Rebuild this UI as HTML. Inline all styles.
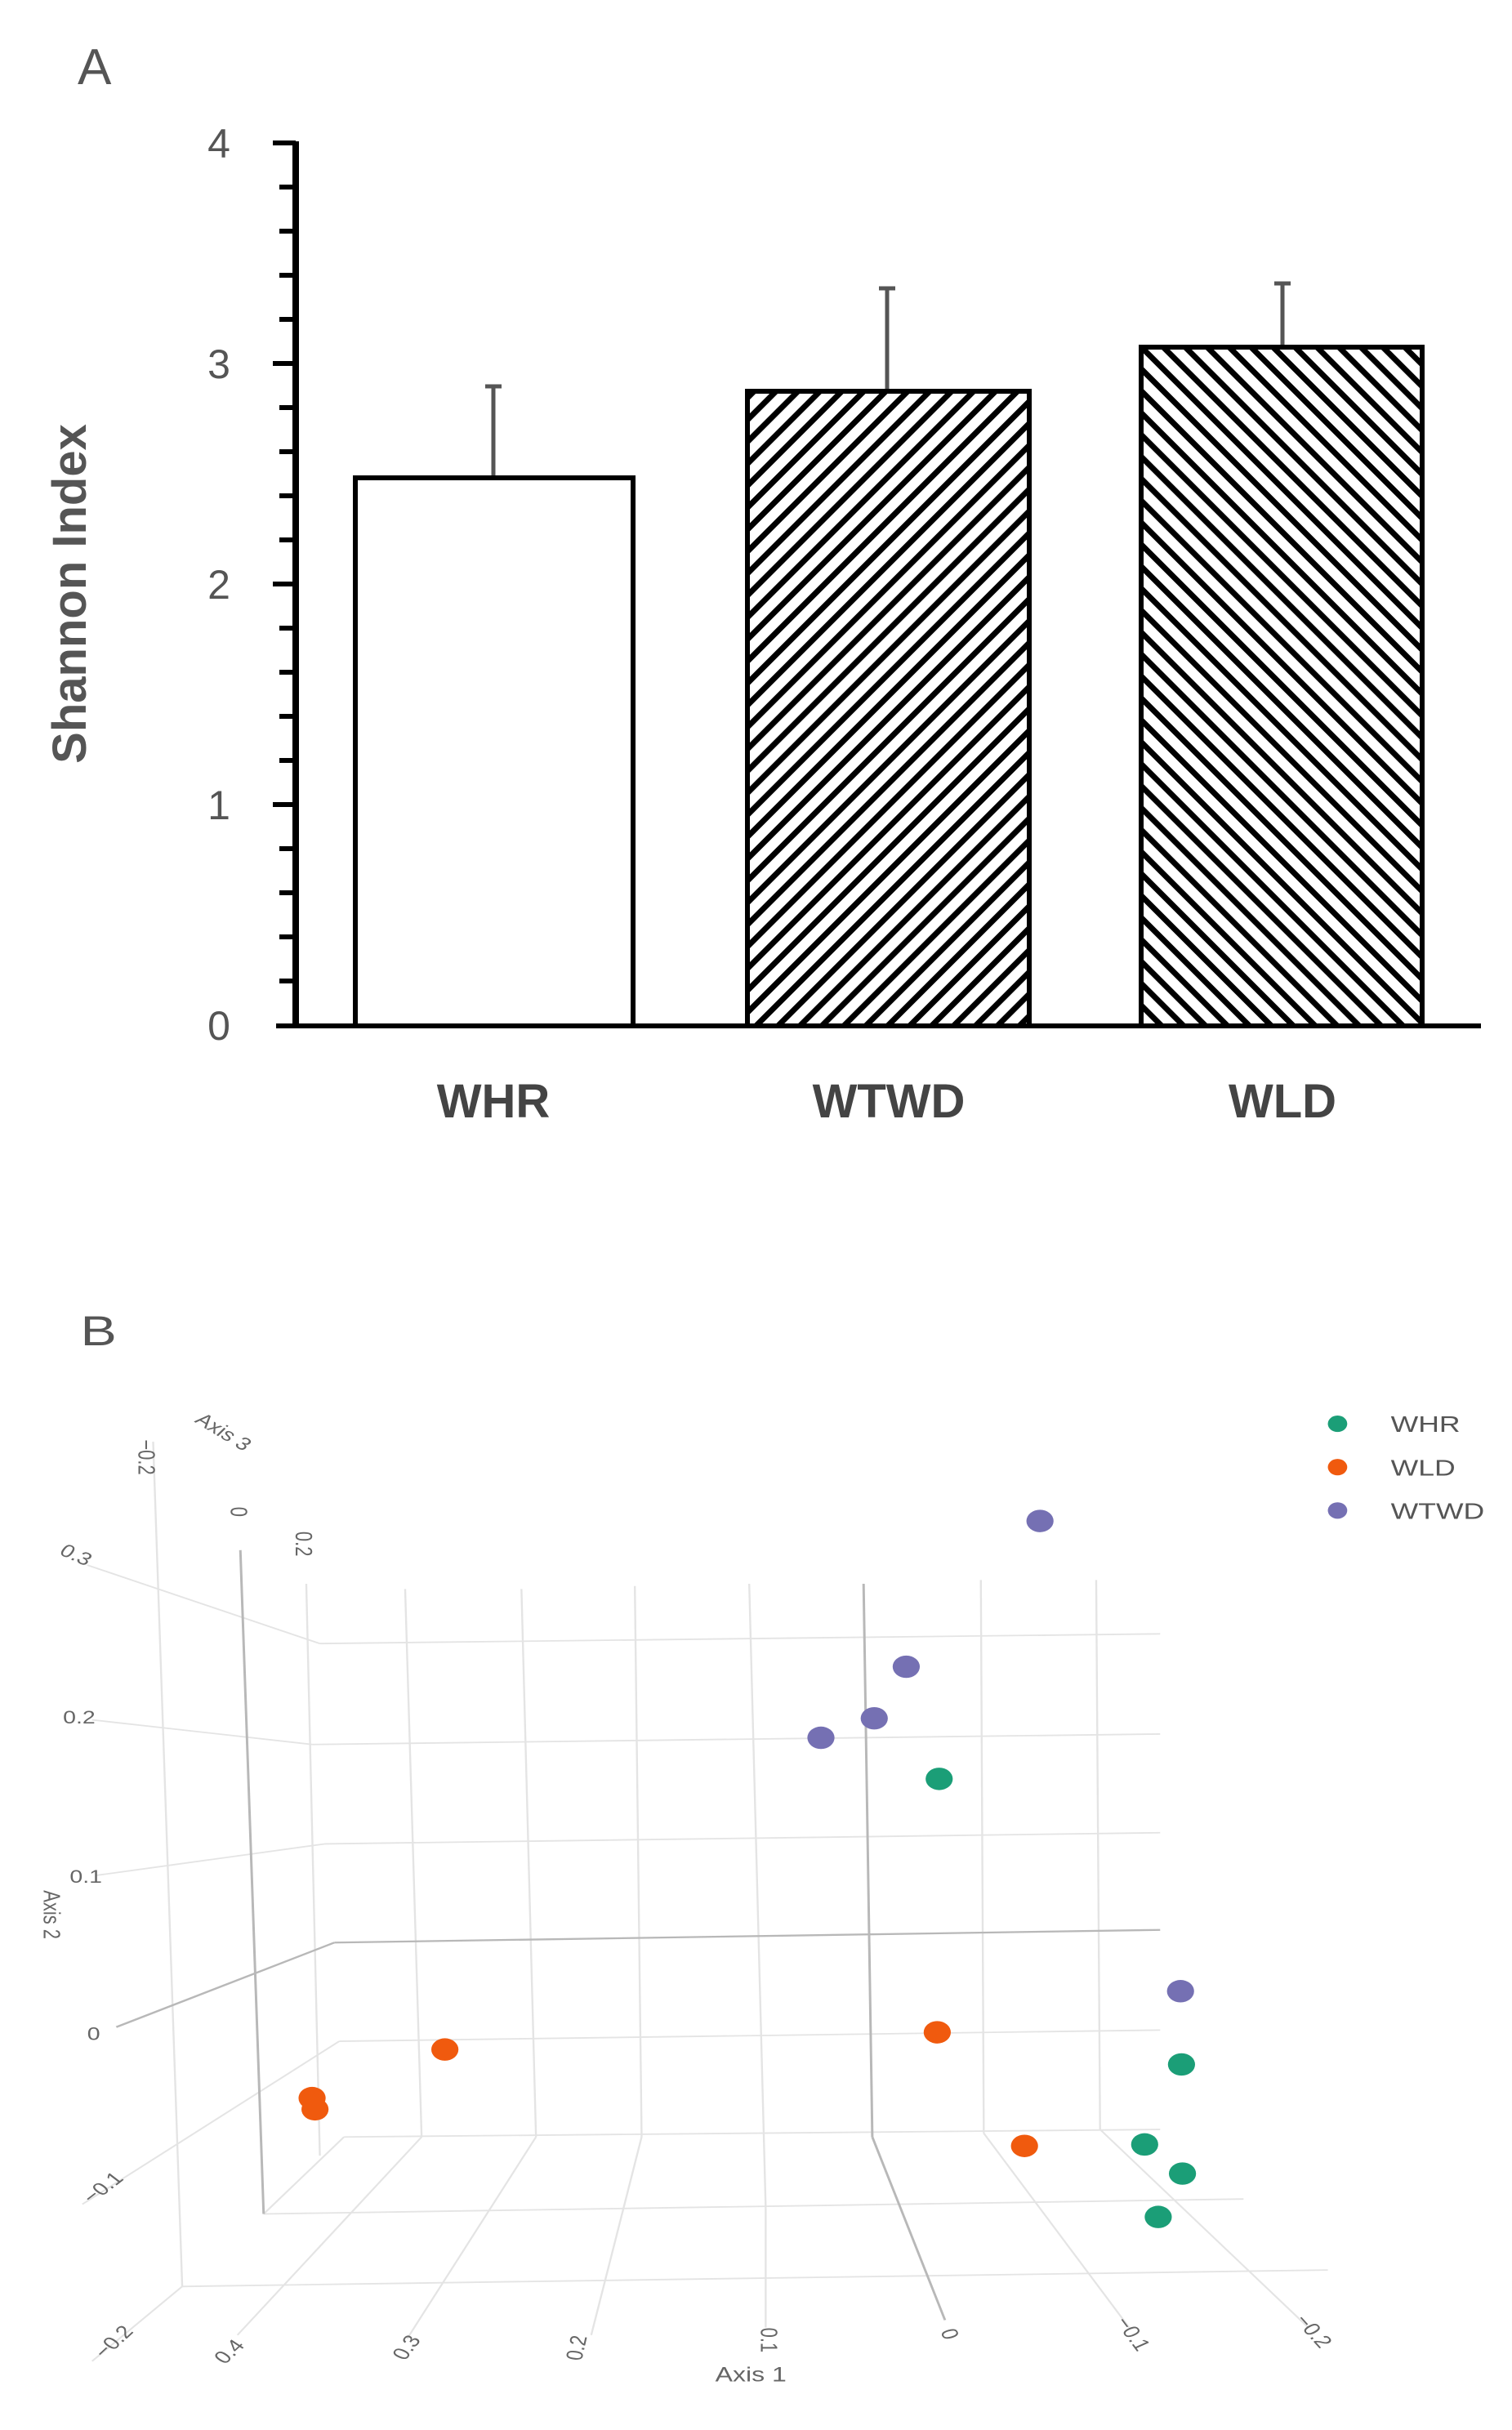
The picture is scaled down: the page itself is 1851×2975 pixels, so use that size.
<!DOCTYPE html>
<html><head><meta charset="utf-8"><style>
html,body{margin:0;padding:0;background:#fff;overflow:hidden;}
svg{display:block;position:absolute;left:0;}
</style></head><body>
<svg style="top:0" width="1851" height="1500" viewBox="0 0 1851 1500" font-family="Liberation Sans, sans-serif">
<defs>
<pattern id="h1" patternUnits="userSpaceOnUse" width="19" height="19" patternTransform="rotate(45)">
<rect width="19" height="19" fill="#fff"/><rect x="0" y="0" width="7" height="19" fill="#000"/></pattern>
<pattern id="h2" patternUnits="userSpaceOnUse" width="19" height="19" patternTransform="rotate(-45)">
<rect width="19" height="19" fill="#fff"/><rect x="0" y="0" width="7" height="19" fill="#000"/></pattern>
</defs>
<text x="95" y="103" font-size="62" fill="#555">A</text>
<line x1="362" y1="173" x2="362" y2="1256" stroke="#000" stroke-width="8"/>
<line x1="338" y1="1256" x2="1813" y2="1256" stroke="#000" stroke-width="6"/>
<g stroke="#000" stroke-width="6">
<line x1="334" y1="175" x2="362" y2="175"/><line x1="342" y1="229" x2="362" y2="229"/><line x1="342" y1="283" x2="362" y2="283"/><line x1="342" y1="337" x2="362" y2="337"/><line x1="342" y1="391" x2="362" y2="391"/>
<line x1="334" y1="445" x2="362" y2="445"/><line x1="342" y1="499" x2="362" y2="499"/><line x1="342" y1="553" x2="362" y2="553"/><line x1="342" y1="607" x2="362" y2="607"/><line x1="342" y1="661" x2="362" y2="661"/>
<line x1="334" y1="715" x2="362" y2="715"/><line x1="342" y1="769" x2="362" y2="769"/><line x1="342" y1="823" x2="362" y2="823"/><line x1="342" y1="877" x2="362" y2="877"/><line x1="342" y1="931" x2="362" y2="931"/>
<line x1="334" y1="985" x2="362" y2="985"/><line x1="342" y1="1039" x2="362" y2="1039"/><line x1="342" y1="1093" x2="362" y2="1093"/><line x1="342" y1="1147" x2="362" y2="1147"/><line x1="342" y1="1201" x2="362" y2="1201"/>
</g>
<g font-size="50" fill="#555" text-anchor="middle">
<text x="268" y="193">4</text><text x="268" y="463">3</text><text x="268" y="733">2</text><text x="268" y="1003">1</text><text x="268" y="1273">0</text>
</g>
<text transform="translate(105,727) rotate(-90)" font-size="58" font-weight="bold" fill="#555" text-anchor="middle">Shannon Index</text>
<g stroke="#555" stroke-width="5">
<line x1="604" y1="473" x2="604" y2="583"/><line x1="594" y1="473" x2="614" y2="473"/>
<line x1="1086" y1="353" x2="1086" y2="478"/><line x1="1076" y1="353" x2="1096" y2="353"/>
<line x1="1570" y1="347" x2="1570" y2="423"/><line x1="1560" y1="347" x2="1580" y2="347"/>
</g>
<rect x="435" y="585" width="340" height="671" fill="#fff" stroke="#000" stroke-width="6"/>
<rect x="915" y="479" width="345" height="777" fill="url(#h1)" stroke="#000" stroke-width="6"/>
<rect x="1397" y="425" width="344" height="831" fill="url(#h2)" stroke="#000" stroke-width="6"/>
<g font-size="58" font-weight="bold" fill="#444" text-anchor="middle">
<text x="604" y="1368">WHR</text><text x="1088" y="1368">WTWD</text><text x="1570" y="1368">WLD</text>
</g>
</svg>
<svg style="top:1550px" width="1851" height="1425" viewBox="0 0 1560 1557" preserveAspectRatio="none" font-family="Liberation Sans, sans-serif">
<text x="83" y="106" font-size="56" fill="#555">B</text>
<g stroke="#e4e4e4" stroke-width="2" fill="none">
<line x1="330" y1="505" x2="1197" y2="492"/><line x1="322" y1="640" x2="1197" y2="626"/><line x1="335" y1="773" x2="1197" y2="758"/>
<line x1="350" y1="1037" x2="1197" y2="1022"/><line x1="355" y1="1165" x2="1197" y2="1155"/>
<line x1="272" y1="1268" x2="1283" y2="1248"/><line x1="188" y1="1365" x2="1370" y2="1343"/>
<line x1="316" y1="425" x2="330" y2="1190"/><line x1="418" y1="432" x2="435" y2="1165"/><line x1="538" y1="432" x2="553" y2="1165"/>
<line x1="655" y1="428" x2="662" y2="1165"/><line x1="773" y1="425" x2="790" y2="1260"/><line x1="1012" y1="420" x2="1015" y2="1160"/><line x1="1131" y1="420" x2="1135" y2="1155"/>
<line x1="158" y1="235" x2="188" y2="1365"/>
<line x1="90" y1="400" x2="330" y2="505"/><line x1="95" y1="607" x2="322" y2="640"/><line x1="100" y1="815" x2="335" y2="773"/>
<line x1="85" y1="1255" x2="350" y2="1037"/><line x1="272" y1="1268" x2="355" y2="1165"/><line x1="95" y1="1465" x2="188" y2="1365"/>
<line x1="435" y1="1165" x2="245" y2="1430"/><line x1="553" y1="1165" x2="420" y2="1435"/><line x1="662" y1="1165" x2="610" y2="1430"/>
<line x1="790" y1="1260" x2="790" y2="1420"/><line x1="1015" y1="1160" x2="1165" y2="1420"/><line x1="1135" y1="1155" x2="1350" y2="1420"/>
</g>
<g stroke="#b8b8b8" stroke-width="2.5" fill="none">
<line x1="345" y1="905" x2="1197" y2="888"/><line x1="120" y1="1018" x2="345" y2="905"/>
<line x1="891" y1="425" x2="900" y2="1165"/><line x1="900" y1="1165" x2="975" y2="1410"/>
<line x1="248" y1="380" x2="272" y2="1268"/>
</g>
<g font-size="24" fill="#666">
<text transform="translate(60,385) rotate(30)">0.3</text>
<text transform="translate(65,612)">0.2</text>
<text transform="translate(72,825)">0.1</text>
<text transform="translate(90,1035)">0</text>
<text transform="translate(95,1255) rotate(-45)">−0.1</text>
<text transform="translate(45,835) rotate(90)">Axis 2</text>
<text transform="translate(143,232) rotate(90)">−0.2</text>
<text transform="translate(238,322) rotate(90)">0</text>
<text transform="translate(305,355) rotate(90)">0.2</text>
<text transform="translate(200,208) rotate(38)">Axis 3</text>
<text transform="translate(108,1462) rotate(-50)">−0.2</text>
<text transform="translate(232,1470) rotate(-50)">0.4</text>
<text transform="translate(418,1465) rotate(-60)">0.3</text>
<text transform="translate(600,1465) rotate(-80)">0.2</text>
<text transform="translate(785,1420) rotate(90)">0.1</text>
<text transform="translate(970,1425) rotate(70)">0</text>
<text transform="translate(1150,1412) rotate(60)">−0.1</text>
<text transform="translate(1335,1410) rotate(55)">−0.2</text>
<text x="738" y="1492" font-size="27">Axis 1</text>
</g>
<g font-size="30" fill="#555">
<ellipse cx="1380" cy="211" rx="10" ry="11" fill="#1b9e77"/><text x="1435" y="222">WHR</text>
<ellipse cx="1380" cy="269" rx="10" ry="11" fill="#f05a0e"/><text x="1435" y="280">WLD</text>
<ellipse cx="1380" cy="327" rx="10" ry="11" fill="#7570b3"/><text x="1435" y="338">WTWD</text>
</g>
<g fill="#7570b3"><ellipse cx="1073" cy="341" rx="14" ry="15"/><ellipse cx="935" cy="536" rx="14" ry="15"/><ellipse cx="902" cy="605" rx="14" ry="15"/><ellipse cx="847" cy="631" rx="14" ry="15"/><ellipse cx="1218" cy="970" rx="14" ry="15"/></g>
<g fill="#1b9e77"><ellipse cx="969" cy="686" rx="14" ry="15"/><ellipse cx="1219" cy="1068" rx="14" ry="15"/><ellipse cx="1181" cy="1175" rx="14" ry="15"/><ellipse cx="1220" cy="1214" rx="14" ry="15"/><ellipse cx="1195" cy="1272" rx="14" ry="15"/></g>
<g fill="#f05a0e"><ellipse cx="459" cy="1048" rx="14" ry="15"/><ellipse cx="322" cy="1113" rx="14" ry="15"/><ellipse cx="325" cy="1128" rx="14" ry="15"/><ellipse cx="967" cy="1025" rx="14" ry="15"/><ellipse cx="1057" cy="1177" rx="14" ry="15"/></g>
</svg>
</body></html>
